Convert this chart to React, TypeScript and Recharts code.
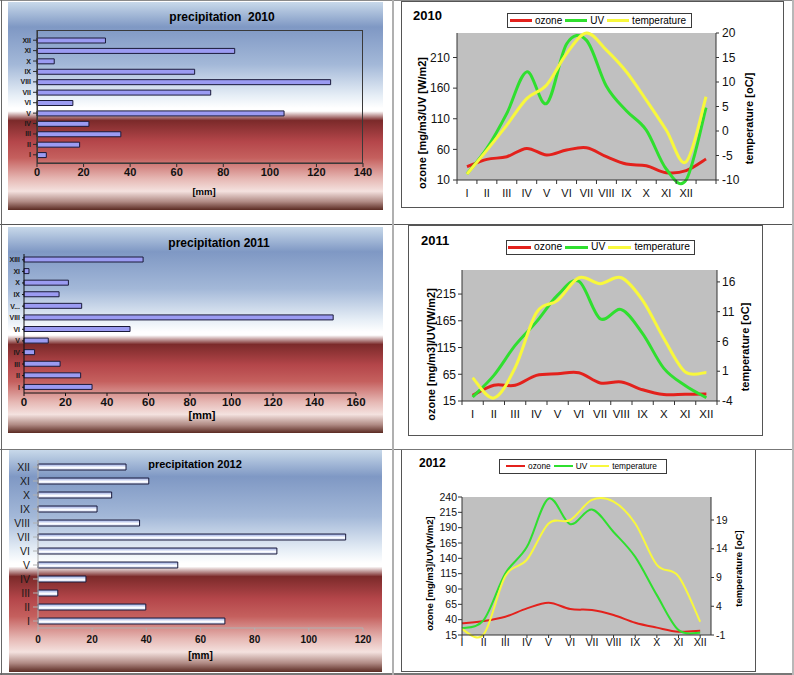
import React from 'react';
import { BarChart, Bar, LineChart, Line, XAxis, YAxis, CartesianGrid } from 'recharts';

const FONT = '"Liberation Sans", Arial, Helvetica, sans-serif';

const ROMAN = ['I', 'II', 'III', 'IV', 'V', 'VI', 'VII', 'VIII', 'IX', 'X', 'XI', 'XII'];

// precipitation [mm], months I..XII (bottom to top in the bar charts)
const precipMonths2010 = ROMAN;
const precip2010 = [4, 18.3, 36, 22.3, 106.1, 15.4, 74.6, 126.1, 67.7, 7.4, 84.9, 29.4];
const precipTicks2010 = [0, 20, 40, 60, 80, 100, 120, 140];

const precipMonths2011 = ['I', 'II', 'III', 'IV', 'V', 'VI', 'VIII', 'V...', 'IX', 'X', 'XI', 'XIII'];
const precip2011 = [32.8, 27.3, 17.4, 5.1, 11.7, 51.1, 149, 27.8, 16.9, 21.4, 2.4, 57.4];
const precipTicks2011 = [0, 20, 40, 60, 80, 100, 120, 140, 160];

const precipMonths2012 = ROMAN;
const precip2012 = [69, 39.8, 7.3, 17.7, 51.6, 88.2, 113.6, 37.5, 21.8, 27.2, 40.9, 32.5];
const precipTicks2012 = [0, 20, 40, 60, 80, 100, 120];

// ozone [mg/m3], UV [W/m2], temperature [oC]
const months2010 = [...ROMAN, ''];
const ozone2010 = [31.7, 43.7, 48, 61.6, 50.8, 58.9, 62.7, 48, 36, 33.4, 22, 25.2, 44.2];
const uv2010 = [19.8, 61.6, 118.7, 186.6, 135, 232, 238, 163, 123, 91.5, 28, 10, 128];
const temp2010 = [-8.8, -3.9, 1.2, 6.6, 9.4, 15.8, 20, 16.5, 12.1, 6.3, 0.2, -6.3, 7];
const leftTicks2010 = [10, 60, 110, 160, 210];
const rightTicks2010 = [-10, -5, 0, 5, 10, 15, 20];

const months2011 = ROMAN;
const ozone2011 = [25.6, 44.4, 44.4, 63, 66, 68, 48.8, 50.6, 36, 27, 27.5, 28];
const uv2011 = [22.5, 63, 119, 163, 213, 239, 169, 186, 141, 76, 44, 21];
const temp2011 = [-0.1, -3.5, 1.6, 10.8, 12.9, 16.7, 15.7, 16.7, 12.9, 6.5, 0.9, 0.8];
const leftTicks2011 = [15, 65, 115, 165, 215];
const rightTicks2011 = [-4, 1, 6, 11, 16];

const months2012 = ROMAN;
const ozone2012 = [34, 37.8, 44.8, 58.4, 67.6, 57.3, 55.7, 47.5, 35, 27, 20.4, 22];
const uv2012 = [25.8, 39.4, 115.3, 158.7, 237.3, 195.6, 219.5, 183, 142.4, 80, 23, 18.8];
const temp2012 = [0, -0.9, 9.2, 12.1, 18.4, 19, 22.5, 22.2, 18.4, 11.2, 9.2, 1.3];
const leftTicks2012 = [15, 40, 65, 90, 115, 140, 165, 190, 215, 240];
const rightTicks2012 = [-1, 4, 9, 14, 19];

const RED = '#e3211c';
const GREEN = '#2fdf2f';
const YELLOW = '#f8f83c';

const SKY_FIRE =
  'linear-gradient(to bottom, #c8d9ea 0%, #7f98c4 12%, #a3b8d8 30%, #e6eef6 45%, #ffffff 51%, #ffffff 52.5%, #7b2a2a 57%, #b4464a 67%, #c5605e 75%, #e6b8b4 85%, #f4e2df 91%, #b08a84 96%, #5a2a22 100%)';

// Excel-like smoothed line (Catmull-Rom through every point)
const excelSmooth = (context: any) => {
  let pts: number[][] = [];
  return {
    areaStart() {},
    areaEnd() {},
    lineStart() {
      pts = [];
    },
    point(x: number, y: number) {
      pts.push([+x, +y]);
    },
    lineEnd() {
      if (!pts.length) return;
      context.moveTo(pts[0][0], pts[0][1]);
      for (let i = 0; i < pts.length - 1; i++) {
        const p0 = pts[Math.max(i - 1, 0)];
        const p1 = pts[i];
        const p2 = pts[i + 1];
        const p3 = pts[Math.min(i + 2, pts.length - 1)];
        context.bezierCurveTo(
          p1[0] + (p2[0] - p0[0]) / 6,
          p1[1] + (p2[1] - p0[1]) / 6,
          p2[0] - (p3[0] - p1[0]) / 6,
          p2[1] - (p3[1] - p1[1]) / 6,
          p2[0],
          p2[1],
        );
      }
    },
  };
};

const vTitle = (text: string, dx: number, dy: number, size: number) => (props: any) => {
  const vb = props.viewBox;
  const x = vb.x + dx;
  const y = vb.y + vb.height / 2 + dy;
  return (
    <text x={x} y={y} transform={`rotate(-90 ${x} ${y})`} textAnchor="middle" dominantBaseline="central"
      fontFamily={FONT} fontWeight="bold" fontSize={size} fill="#000">
      {text}
    </text>
  );
};

const hTitle = (text: string, dx: number, dy: number, size: number) => (props: any) => {
  const vb = props.viewBox;
  return (
    <text x={vb.x + vb.width / 2 + dx} y={vb.y + dy} textAnchor="middle" dominantBaseline="central"
      fontFamily={FONT} fontWeight="bold" fontSize={size} fill="#000">
      {text}
    </text>
  );
};

const Title = ({ text, x, y, size, center = true }: any) => (
  <div
    style={{
      position: 'absolute', left: x, top: y, transform: center ? 'translate(-50%, -50%)' : 'translateY(-50%)',
      fontFamily: FONT, fontWeight: 'bold', fontSize: size, whiteSpace: 'pre', lineHeight: 1, color: '#000',
    }}
  >
    {text}
  </div>
);

const LegendBox = ({ x, y, w, h, size, lineLen, lineW }: any) => {
  const items = [
    { name: 'ozone', color: RED },
    { name: 'UV', color: GREEN },
    { name: 'temperature', color: YELLOW },
  ];
  return (
    <div
      style={{
        position: 'absolute', left: x, top: y, width: w, height: h, boxSizing: 'border-box',
        border: '1px solid #3a3a3a', background: '#fff', display: 'flex', alignItems: 'center',
        justifyContent: 'center', fontFamily: FONT, fontSize: size, lineHeight: 1, color: '#000',
      }}
    >
      {items.map((it) => (
        <span key={it.name} style={{ display: 'flex', alignItems: 'center', marginRight: 3 }}>
          <span style={{ display: 'inline-block', width: lineLen, height: lineW, background: it.color, marginRight: 3 }} />
          {it.name}
        </span>
      ))}
    </div>
  );
};

function PrecipPanel(p: any) {
  const data = p.months.map((m: string, i: number) => ({ m, v: p.values[i] }));
  return (
    <div style={{ position: 'absolute', left: p.x, top: p.y, width: p.w, height: p.h, background: SKY_FIRE }}>
      <BarChart width={p.w} height={p.h} data={data} layout="vertical" margin={p.margin} barCategoryGap={0}>
        {p.glass && (
          <defs>
            <linearGradient id="barGlass" x1="0" y1="0" x2="0" y2="1">
              <stop offset="0" stopColor="#93a6e2" />
              <stop offset="0.6" stopColor="#ffffff" />
              <stop offset="1" stopColor="#c9d3f2" />
            </linearGradient>
          </defs>
        )}
        <XAxis
          type="number"
          domain={[0, p.ticks[p.ticks.length - 1]]}
          ticks={p.ticks}
          interval={0}
          height={p.xHeight}
          stroke={p.axisColor}
          tickSize={p.xTickSize}
          tickMargin={p.xTickMargin}
          tick={{ fontSize: p.xFont, fontWeight: 'bold', fill: '#111', fontFamily: FONT }}
          label={{ content: hTitle('[mm]', p.mmDx, p.mmDy, p.mmFont) }}
        />
        <YAxis
          type="category"
          dataKey="m"
          reversed
          interval={0}
          width={p.yWidth}
          padding={p.yPad}
          stroke={p.axisColor}
          tickSize={p.yTickSize}
          tickMargin={p.yTickMargin}
          tick={{ fontSize: p.catFont, fontWeight: p.catBold ? 'bold' : 'normal', fill: '#1a1a1a', fontFamily: FONT }}
        />
        <Bar dataKey="v" barSize={p.barSize} fill={p.glass ? 'url(#barGlass)' : '#9b9bf2'} stroke="#1a1a3a"
          strokeWidth={1} isAnimationActive={false} />
      </BarChart>
      {p.box && (
        <div style={{ position: 'absolute', ...p.box, boxSizing: 'border-box', border: '1px solid #3a3a3a', pointerEvents: 'none' }} />
      )}
      <Title text={p.title} x={p.titleX} y={p.titleY} size={p.titleSize} />
    </div>
  );
}

function ClimatePanel(p: any) {
  const data = p.months.map((m: string, i: number) => ({
    x: i + p.xShift,
    ozone: p.ozone[i],
    uv: p.uv[i],
    temp: p.temp[i],
  }));
  const xTicks = Array.from({ length: p.tickCount }, (_, i) => i);
  return (
    <div style={{ position: 'absolute', left: p.x, top: p.y, width: p.w, height: p.h }}>
      <LineChart width={p.w} height={p.h} data={data} margin={{ top: p.plotTop, right: 0, bottom: 0, left: 0 }}>
        <CartesianGrid yAxisId="l" fill="#c0c0c0" horizontal={false} vertical={false} stroke="none" />
        <XAxis
          type="number"
          dataKey="x"
          domain={[0, p.xMax]}
          ticks={xTicks}
          interval={0}
          height={p.xHeight}
          stroke="#333"
          tickSize={p.xTickSize}
          tickMargin={p.xTickMargin}
          tickFormatter={(v: number) => p.months[v] ?? ''}
          tick={{ dx: p.labelDx, fontSize: p.xFont, fill: '#111', fontFamily: FONT }}
        />
        <YAxis
          yAxisId="l"
          type="number"
          domain={p.leftDomain}
          ticks={p.leftTicks}
          interval={0}
          width={p.leftWidth}
          stroke="#333"
          tickSize={4}
          tickMargin={p.leftTickMargin}
          tick={{ fontSize: p.yFont, fill: '#111', fontFamily: FONT }}
          label={{ content: vTitle(p.leftTitle, p.leftTitleDx, p.leftTitleDy, p.axisTitleSize) }}
        />
        <YAxis
          yAxisId="r"
          orientation="right"
          type="number"
          domain={p.rightDomain}
          ticks={p.rightTicks}
          interval={0}
          width={p.rightWidth}
          stroke="#333"
          tickSize={3}
          tickMargin={p.rightTickMargin}
          tick={{ fontSize: p.yFont, fill: '#111', fontFamily: FONT }}
          label={{ content: vTitle(p.rightTitle, p.rightTitleDx, p.rightTitleDy, p.axisTitleSize) }}
        />
        <Line yAxisId="l" dataKey="ozone" type={excelSmooth as any} stroke={RED} strokeWidth={p.lineW}
          dot={false} activeDot={false} isAnimationActive={false} />
        <Line yAxisId="l" dataKey="uv" type={excelSmooth as any} stroke={GREEN} strokeWidth={p.lineW}
          dot={false} activeDot={false} isAnimationActive={false} />
        <Line yAxisId="r" dataKey="temp" type={excelSmooth as any} stroke={YELLOW} strokeWidth={p.lineW}
          dot={false} activeDot={false} isAnimationActive={false} />
      </LineChart>
      <div style={{ position: 'absolute', left: 0, top: 0, width: p.w, height: p.h, boxSizing: 'border-box', border: '1px solid #555', pointerEvents: 'none' }} />
      <Title text={p.title} x={p.titleX} y={p.titleY} size={p.titleSize} center={false} />
      <LegendBox {...p.legend} />
    </div>
  );
}

const hLine = (y: number, color: string, w = 1) => (
  <div style={{ position: 'absolute', left: 0, top: y, width: 794, height: w, background: color }} />
);
const vLine = (x: number, color: string, w = 1) => (
  <div style={{ position: 'absolute', left: x, top: 0, width: w, height: 675, background: color }} />
);

export default function App() {
  return (
    <div style={{ position: 'absolute', left: 0, top: 0, width: 794, height: 675, background: '#fff', overflow: 'hidden' }}>
      <PrecipPanel
        x={8} y={2} w={375} h={208}
        months={precipMonths2010} values={precip2010} ticks={precipTicks2010}
        margin={{ top: 28, right: 20, bottom: 7, left: 0 }}
        xHeight={40} xTickSize={4} xTickMargin={1} xFont={11}
        yWidth={29} yPad={{ top: 5, bottom: 3 }} yTickSize={4} yTickMargin={2}
        catFont={7} catBold barSize={5} axisColor="#2a2a2a"
        mmDx={4} mmDy={28} mmFont={9.5}
        box={{ left: 29, top: 28, width: 326, height: 134 }}
        title={'precipitation  2010'} titleX={214} titleY={15} titleSize={12}
      />
      <PrecipPanel
        x={8} y={227} w={375} h={206}
        months={precipMonths2011} values={precip2011} ticks={precipTicks2011}
        margin={{ top: 27, right: 27, bottom: 8, left: 0 }}
        xHeight={32} xTickSize={3} xTickMargin={2} xFont={11.5}
        yWidth={16} yPad={{ top: 0, bottom: 0 }} yTickSize={2} yTickMargin={2}
        catFont={7} catBold barSize={5} axisColor="#111"
        mmDx={12} mmDy={22} mmFont={11}
        title="precipitation 2011" titleX={211} titleY={16} titleSize={12}
      />
      <PrecipPanel
        x={9} y={450} w={373} h={222}
        months={precipMonths2012} values={precip2012} ticks={precipTicks2012}
        margin={{ top: 10, right: 19, bottom: 10, left: 0 }}
        xHeight={34} xTickSize={4} xTickMargin={4} xFont={10}
        yWidth={29} yPad={{ top: 0, bottom: 0 }} yTickSize={5} yTickMargin={3}
        catFont={10.5} catBold={false} barSize={6} axisColor="#b0b0b0" glass
        mmDx={0} mmDy={27} mmFont={10}
        title="precipitation 2012" titleX={186} titleY={14} titleSize={11}
      />

      <ClimatePanel
        x={401} y={1} w={383} h={207} plotTop={32}
        months={months2010} ozone={ozone2010} uv={uv2010} temp={temp2010}
        xShift={0.5} tickCount={14} xMax={13} labelDx={9.96}
        xHeight={28} xTickSize={4} xTickMargin={5} xFont={11}
        leftDomain={[10, 250]} leftTicks={leftTicks2010} leftWidth={56} leftTickMargin={3}
        rightDomain={[-10, 20]} rightTicks={rightTicks2010} rightWidth={68} rightTickMargin={3}
        yFont={12} axisTitleSize={11}
        leftTitle="ozone [mg/m3/UV [W/m2]" leftTitleDx={21} leftTitleDy={16.5}
        rightTitle="temperature [oC/]" rightTitleDx={33} rightTitleDy={12}
        lineW={3}
        title="2010" titleX={12} titleY={14} titleSize={13}
        legend={{ x: 106, y: 12, w: 185, h: 15, size: 10, lineLen: 22, lineW: 3 }}
      />
      <ClimatePanel
        x={408} y={225} w={355} h={211} plotTop={45}
        months={months2011} ozone={ozone2011} uv={uv2011} temp={temp2011}
        xShift={0.5} tickCount={13} xMax={12} labelDx={10.6}
        xHeight={35} xTickSize={4} xTickMargin={5} xFont={11.5}
        leftDomain={[15, 260]} leftTicks={leftTicks2011} leftWidth={54} leftTickMargin={2}
        rightDomain={[-4, 18]} rightTicks={rightTicks2011} rightWidth={46} rightTickMargin={2}
        yFont={12} axisTitleSize={11}
        leftTitle="ozone [mg/m3]/UV[W/m2]" leftTitleDx={23} leftTitleDy={19}
        rightTitle="temperature [oC]" rightTitleDx={28} rightTitleDy={11.5}
        lineW={3}
        title="2011" titleX={13} titleY={15} titleSize={13}
        legend={{ x: 98, y: 15, w: 189, h: 15, size: 10.3, lineLen: 23, lineW: 3 }}
      />
      <ClimatePanel
        x={401} y={449} w={355} h={223} plotTop={48}
        months={months2012} ozone={ozone2012} uv={uv2012} temp={temp2012}
        xShift={0} tickCount={12} xMax={11.5} labelDx={0}
        xHeight={37} xTickSize={3} xTickMargin={1} xFont={10.5}
        leftDomain={[15, 240]} leftTicks={leftTicks2012} leftWidth={61} leftTickMargin={1}
        rightDomain={[-1, 23]} rightTicks={rightTicks2012} rightWidth={45} rightTickMargin={2}
        yFont={10.5} axisTitleSize={9.5}
        leftTitle="ozone [mg/m3]/UV[W/m2]" leftTitleDx={28} leftTitleDy={7.5}
        rightTitle="temperature [oC]" rightTitleDx={27} rightTitleDy={2.5}
        lineW={2}
        title="2012" titleX={18} titleY={14} titleSize={12}
        legend={{ x: 98, y: 10, w: 168, h: 15, size: 8.3, lineLen: 19, lineW: 2 }}
      />

      {hLine(0, '#8a8a8a')}
      {hLine(224, '#555')}
      {hLine(449, '#777')}
      {hLine(673, '#777', 2)}
      {vLine(1, '#666')}
      {vLine(392, '#b0b0b0', 2)}
      {vLine(792, '#b8b8b8', 2)}
    </div>
  );
}
